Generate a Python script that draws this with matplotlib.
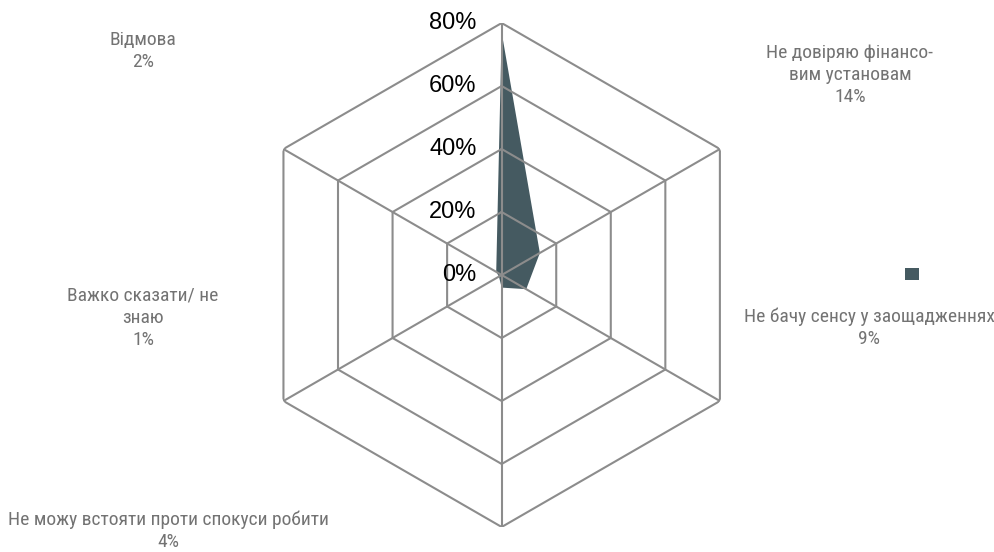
import numpy as np
import matplotlib
matplotlib.use("Agg")
import matplotlib.pyplot as plt
from matplotlib import font_manager
from matplotlib.patches import Patch
from matplotlib.transforms import offset_copy

# Survey shares, clockwise from the top spoke
categories = [
    "",
    "Не довіряю фінансо-\nвим установам",
    "Не бачу сенсу у заощадженнях",
    "Не можу встояти проти спокуси робити",
    "Важко сказати/ не\nзнаю",
    "Відмова",
]
values = [77, 14, 9, 4, 1, 2]
ring_ticks = [0, 20, 40, 60, 80]

FILL = "#455A61"
GRID = "#8C8C8C"
LABEL = "#737373"


def has_font(name):
    try:
        font_manager.findfont(name, fallback_to_default=False)
        return True
    except Exception:
        return False


# prefer a condensed face for the category labels
label_font, label_size = ["DejaVu Sans"], 11
for name, size in [("Roboto Condensed", 14), ("Liberation Sans Narrow", 14),
                   ("Roboto", 12.2)]:
    if has_font(name):
        label_font, label_size = [name, "DejaVu Sans"], size
        break

W, H = 994, 552
fig = plt.figure(figsize=(W / 100, H / 100), dpi=100)
ax = fig.add_axes([0.2512, 0.0453, 0.507, 0.913], projection="polar")
ax.set_theta_zero_location("N")
ax.set_theta_direction(-1)
ax.set_ylim(0, ring_ticks[-1])
ax.axis("off")

n = len(values)
angles = np.linspace(0, 2 * np.pi, n, endpoint=False)
ang_c = np.append(angles, angles[0])

# data polygon
ax.fill(ang_c, np.append(values, values[0]), color=FILL, lw=0, zorder=1)

# hexagonal rings and spokes
for r in ring_ticks[1:]:
    ax.plot(ang_c, [r] * len(ang_c), color=GRID, lw=1.5, zorder=2)
for a in angles:
    ax.plot([a, a], [0, ring_ticks[-1]], color=GRID, lw=1.5, zorder=2)

# radial tick labels left of the top spoke
tick_tr = offset_copy(ax.transData, fig=fig, x=-25, y=0, units="dots")
for r in ring_ticks:
    ax.text(0, r, f"{r}%", transform=tick_tr, ha="right", va="center",
            fontsize=17, color="black", family=["Liberation Sans", "DejaVu Sans"],
            zorder=3)

# category labels (pixel centres)
label_pos = {
    1: (850, 75),
    2: (869, 328),
    3: (168, 531),
    4: (143, 318),
    5: (143, 51),
}
for i, (px, py) in label_pos.items():
    fig.text(px / W, 1 - py / H, f"{categories[i]}\n{values[i]}%",
             ha="center", va="center", ma="center", fontsize=label_size,
             color=LABEL, family=label_font, linespacing=1.3)

# legend key without text
fig.legend(handles=[Patch(facecolor=FILL, edgecolor="none")], labels=[""],
           loc="center", bbox_to_anchor=(912 / W, 1 - 275 / H),
           frameon=False, handlelength=1.0, handleheight=1.0,
           handletextpad=0, borderpad=0)

fig.savefig("out.png", dpi=100)
